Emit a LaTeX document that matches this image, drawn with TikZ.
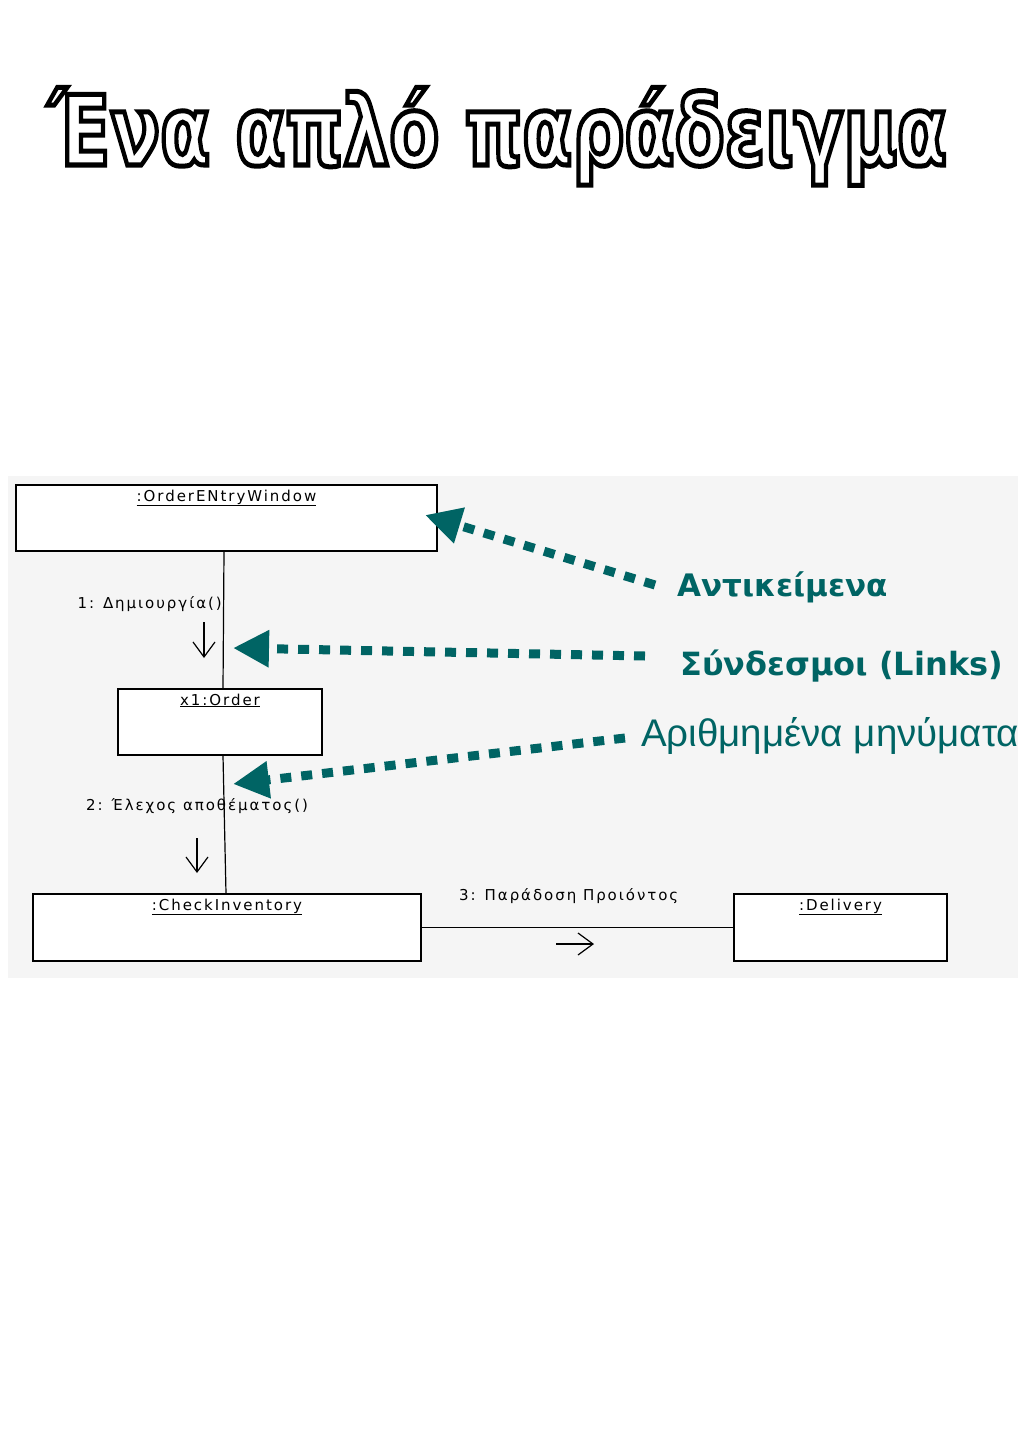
\documentclass[tikz,border=0pt]{standalone}
\usepackage{fontspec}
\setmainfont{DejaVu Sans}[LetterSpace=13]
\newfontfamily\titlefont{DejaVu Sans Condensed}
\newfontfamily\notefont{DejaVu Sans}
\newfontfamily\numfont{Liberation Sans}
\usetikzlibrary{arrows.meta,positioning}
\definecolor{tealnote}{RGB}{0,100,100}
\definecolor{panelgray}{RGB}{245,245,245}

\tikzset{
  objbox/.style={draw, fill=white, line width=1.2pt, inner sep=0pt},
  objname/.style={anchor=north, inner sep=0pt, yshift=-5pt, font=\fontsize{15}{17}\selectfont},
  msg/.style={inner sep=0pt, font=\fontsize{15}{17}\selectfont},
  msgarrow/.style={line width=1.2pt, -{Straight Barb[length=15pt,width=22pt]}},
  link/.style={line width=1.2pt},
  note/.style={inner sep=0pt, anchor=base west, text=tealnote},
  pointer/.style={draw=tealnote, line width=9pt, dash pattern=on 11pt off 10pt,
    -{Triangle[length=36pt,width=35pt,fill=tealnote]}}
}

\begin{document}
\begin{tikzpicture}[x=1pt,y=-1pt]
  \useasboundingbox[fill=white] (0,0) rectangle (1024,1448);

  % title
  \node[anchor=base, inner sep=0pt] (title) at (498,165) {\scalebox{0.835}[1]{\special{pdf:literal direct 1 Tr 5 w}\titlefont\bfseries\fontsize{97}{100}\selectfont Ένα απλό παράδειγμα\special{pdf:literal direct 0 Tr 1 w}}};

  \fill[panelgray] (8,476) rectangle (1018,978);

  % objects
  \node[objbox, minimum width=421pt, minimum height=66pt] (oew) at (226.5,518)
    {};
  \node[objname] (oewname) at (oew.north) {\underline{:OrderENtryWindow}};
  \node[objbox, minimum width=204pt, minimum height=66pt] (ord) at (220,722) {};
  \node[objname] (ordname) at (ord.north) {\underline{x1:Order}};
  \node[objbox, minimum width=388pt, minimum height=67pt] (chk) at (227,927.5) {};
  \node[objname] (chkname) at (chk.north) {\underline{:CheckInventory}};
  \node[objbox, minimum width=213pt, minimum height=67pt] (dlv) at (840.5,927.5) {};
  \node[objname] (dlvname) at (dlv.north) {\underline{:Delivery}};

  % links
  \draw[link] (oew.south -| 224,0) -- (ord.north -| 223,0);
  \draw[link] (ord.south -| 223,0) -- (chk.north -| 226,0);
  \draw[link] (chk.east) -- (dlv.west);

  % messages
  \node[msg, anchor=base east] (m1) at (222,608) {1: Δημιουργία()};
  \coordinate (m1a) at (204,622);
  \coordinate (m1b) at (204,658);
  \draw[msgarrow] (m1a) -- (m1b);
  \node[msg, anchor=base west] (m2) at (86,810) {2: Έλεχος αποθέματος()};
  \coordinate (m2a) at (197,838);
  \coordinate (m2b) at (197,873);
  \draw[msgarrow] (m2a) -- (m2b);
  \node[msg, anchor=base west] (m3) at (459,900) {3: Παράδοση Προιόντος};
  \coordinate (m3a) at (556,944);
  \coordinate (m3b) at (594,944);
  \draw[msgarrow] (m3a) -- (m3b);

  % notes
  \node[note, font=\notefont\bfseries\fontsize{31}{34}\selectfont] (n1) at (677,596) {Αντικείμενα};
  \node[note, font=\notefont\bfseries\fontsize{32}{34}\selectfont] (n2) at (680,675) {Σύνδεσμοι (Links)};
  \node[note, font=\numfont\fontsize{38.5}{40}\selectfont] (n3) at (641,746) {Αριθμημένα μηνύματα};
  \coordinate (t1) at (425,515);
  \coordinate (t2) at (233,648);
  \coordinate (t3) at (233,784);
  \draw[pointer] (655,585) -- (t1);
  \draw[pointer] (645,656) -- (t2);
  \draw[pointer] (625,738) -- (t3);
\end{tikzpicture}
\end{document}
